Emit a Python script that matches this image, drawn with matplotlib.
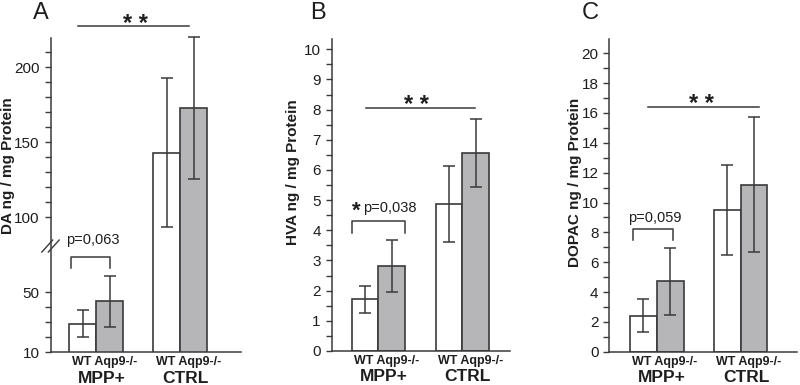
import matplotlib
matplotlib.use("Agg")
import matplotlib.pyplot as plt
import numpy as np

plt.rcParams['font.family'] = ['Liberation Sans', 'DejaVu Sans']

# data
groups = ['MPP+', 'CTRL']
genotypes = 'WT Aqp9-/-'

da_wt = [29, 143]
da_wt_err = [9, 49.5]
da_ko = [44, 173]
da_ko_err = [17, 47.5]

hva_wt = [1.71, 4.87]
hva_wt_err = [0.45, 1.27]
hva_ko = [2.83, 6.57]
hva_ko_err = [0.86, 1.13]

dopac_wt = [2.41, 9.5]
dopac_wt_err = [1.11, 3.0]
dopac_ko = [4.72, 11.2]
dopac_ko_err = [2.24, 4.5]

p_labels = ['p=0,063', 'p=0,038', 'p=0,059']
p_star = ['', '*', '']

W, H = 800, 385
fig = plt.figure(figsize=(8, 3.85), dpi=100)

dark = '#3a3a3a'
grey = '#b6b6b9'
txt = '#1e1e1e'


def px_rect(x0, x1, ytop, ybot):
    return [x0 / W, 1 - ybot / H, (x1 - x0) / W, (ybot - ytop) / H]


panels = [
    dict(rect=px_rect(50.5, 241, 38.3, 352), xmax=7.06, ylim=(10, 219.3),
         centers=[1.7, 4.81], wt=da_wt, wte=da_wt_err, ko=da_ko, koe=da_ko_err,
         major=[10, 50, 100, 150, 200],
         minor=list(range(20, 50, 10)) + list(range(110, 220, 10)),
         ylabel='DA ng / mg Protein', ylab_xy=(8, 166), letter='A', letter_xy=(40.5, 13),
         sig_line=(1.02, 5.13, 227.3), stars=(3.13, 228.5),
         bracket=(0.75, 2.2, 73.5, 66.2), ptxt=(1.57, 84.7), pstar=None),
    dict(rect=px_rect(331.7, 510, 39.3, 351), xmax=6.68, ylim=(0, 10.33),
         centers=[1.75, 4.89], wt=hva_wt, wte=hva_wt_err, ko=hva_ko, koe=hva_ko_err,
         major=list(range(0, 11)), minor=list(np.arange(0.5, 10.5, 1.0)),
         ylabel='HVA ng / mg Protein', ylab_xy=(293, 172), letter='B', letter_xy=(318, 13),
         sig_line=(1.28, 5.35, 8.06), stars=(3.18, 8.12),
         bracket=(0.75, 2.75, 4.31, 3.9), ptxt=(2.17, 4.73), pstar=(0.93, 4.62)),
    dict(rect=px_rect(609.3, 796.7, 39, 351.7), xmax=7.02, ylim=(0, 20.96),
         centers=[1.78, 4.92], wt=dopac_wt, wte=dopac_wt_err, ko=dopac_ko, koe=dopac_ko_err,
         major=list(range(0, 21, 2)), minor=list(range(1, 21, 2)),
         ylabel='DOPAC ng / mg Protein', ylab_xy=(575, 182), letter='C', letter_xy=(590, 13),
         sig_line=(1.46, 5.6, 16.42), stars=(3.45, 16.56),
         bracket=(0.9, 2.37, 8.2, 7.49), ptxt=(1.71, 8.94), pstar=None),
]

for i, p in enumerate(panels):
    ax = fig.add_axes(p['rect'])
    c = np.array(p['centers'])
    ax.bar(c - 0.5, p['wt'], width=1.0, color='white', edgecolor=dark, linewidth=1.2)
    ax.bar(c + 0.5, p['ko'], width=1.0, color=grey, edgecolor=dark, linewidth=1.2)
    ax.errorbar(c - 0.5, p['wt'], yerr=p['wte'], fmt='none', ecolor=dark,
                elinewidth=1.1, capsize=4, capthick=1.1, clip_on=False)
    ax.errorbar(c + 0.5, p['ko'], yerr=p['koe'], fmt='none', ecolor=dark,
                elinewidth=1.1, capsize=4, capthick=1.1, clip_on=False)

    ax.set_xlim(0, p['xmax'])
    ax.set_ylim(*p['ylim'])
    for s in ['top', 'right']:
        ax.spines[s].set_visible(False)
    for s in ['left', 'bottom']:
        ax.spines[s].set_color(dark)
        ax.spines[s].set_linewidth(1.1)
    ax.set_xticks([])
    ax.set_yticks(p['major'])
    ax.set_yticks(p['minor'], minor=True)
    ax.tick_params(axis='y', which='both', direction='out', length=4.3, width=1,
                   color=dark, labelsize=11, labelcolor=txt, pad=3.5)

    # group labels
    for j, g in enumerate(groups):
        ax.text(c[j] + 0.3, -0.032, genotypes, transform=ax.get_xaxis_transform(),
                ha='center', va='center', fontsize=9, fontweight='bold', color=txt)
        ax.text(c[j] + 0.2, -0.083, g, transform=ax.get_xaxis_transform(),
                ha='center', va='center', fontsize=12.5, fontweight='bold', color=txt)

    # significance line
    x0, x1, yl = p['sig_line']
    ax.plot([x0, x1], [yl, yl], color=dark, lw=1.1, clip_on=False)
    ax.text(p['stars'][0], p['stars'][1], '* *', ha='center', va='center',
            fontsize=17, fontweight='bold', color=txt, clip_on=False)

    # bracket
    bx0, bx1, btop, bbot = p['bracket']
    ax.plot([bx0, bx0, bx1, bx1], [bbot, btop, btop, bbot], color=dark, lw=1.1)
    ax.text(p['ptxt'][0], p['ptxt'][1], p_labels[i], ha='center', va='center',
            fontsize=10.5, color=txt)
    if p['pstar'] is not None:
        ax.text(p['pstar'][0], p['pstar'][1], p_star[i], ha='center', va='center',
                fontsize=16, fontweight='bold', color=txt)

    fig.text(p['ylab_xy'][0] / W, 1 - p['ylab_xy'][1] / H, p['ylabel'], rotation=90,
             ha='center', va='center', fontsize=11, fontweight='bold', color=txt)
    fig.text(p['letter_xy'][0] / W, 1 - p['letter_xy'][1] / H, p['letter'],
             ha='center', va='center', fontsize=17, color=txt)

    if i == 0:
        # axis break mark on the DA axis
        yb = 80.7
        for dx in (-0.12, 0.12):
            ax.plot([dx - 0.2, dx + 0.2], [yb - 4, yb + 4], color=dark, lw=1.0,
                    clip_on=False)

fig.savefig('out.png', dpi=100)
